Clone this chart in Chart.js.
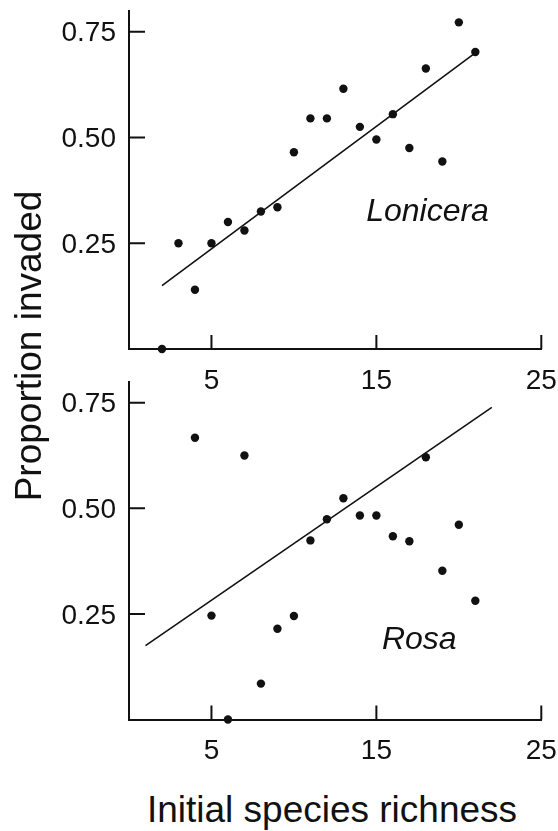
<!DOCTYPE html>
<html><head><meta charset="utf-8">
<script src="https://cdn.jsdelivr.net/npm/chart.js@4.4.0/dist/chart.umd.min.js"></script>
<style>
html,body{margin:0;padding:0;background:#fff;}
#wrap{position:relative;width:558px;height:831px;overflow:hidden;font-family:"Liberation Sans",Arial,Helvetica,sans-serif;color:#111;}
canvas{position:absolute;left:0;}
#c1{top:0;}
#c2{top:371px;}
.title{position:absolute;font-size:37px;line-height:40px;height:40px;white-space:nowrap;text-align:center;}
#xt{left:132px;width:400px;top:790px;}
#yt{left:-171px;top:326px;width:400px;transform:rotate(-90deg);}
</style></head>
<body>
<div id="wrap">
  <canvas id="c1" width="558" height="400"></canvas>
  <canvas id="c2" width="558" height="400"></canvas>
  <div class="title" id="yt">Proportion invaded</div>
  <div class="title" id="xt">Initial species richness</div>
</div>
<script>
// ---- data ----
const xTickValues = [5, 15, 25];
const yTickValues = [0.25, 0.5, 0.75];
const speciesNames = ["Lonicera", "Rosa"];

const loniceraRichness = [2, 3, 4, 5, 6, 7, 8, 9, 10, 11, 12, 13, 14, 15, 16, 17, 18, 19, 20, 21];
const loniceraInvaded  = [0, 0.25, 0.14, 0.25, 0.30, 0.28, 0.325, 0.335, 0.465, 0.545, 0.545, 0.615, 0.525, 0.495, 0.555, 0.475, 0.663, 0.443, 0.772, 0.702];
const loniceraFitX = [2, 21];
const loniceraFitY = [0.15, 0.70];

const rosaRichness = [4, 5, 6, 7, 8, 9, 10, 11, 12, 13, 14, 15, 16, 17, 18, 19, 20, 21];
const rosaInvaded  = [0.667, 0.246, 0, 0.625, 0.085, 0.215, 0.245, 0.424, 0.474, 0.524, 0.483, 0.483, 0.434, 0.422, 0.621, 0.352, 0.461, 0.281];
const rosaFitX = [1, 22];
const rosaFitY = [0.175, 0.739];

// ---- drawing ----
const FONT = '"Liberation Sans", Arial, Helvetica, sans-serif';
const INK = '#111';

const inwardTicks = {
  id: 'inwardTicks',
  afterDraw(chart) {
    const {ctx, chartArea: a, scales: {x, y}} = chart;
    ctx.save();
    ctx.strokeStyle = INK;
    ctx.lineWidth = 2;
    ctx.beginPath();
    y.ticks.forEach(t => {
      const py = y.getPixelForValue(t.value);
      ctx.moveTo(a.left, py); ctx.lineTo(a.left + 16, py);
    });
    x.ticks.forEach(t => {
      const px = x.getPixelForValue(t.value);
      ctx.moveTo(px, a.bottom); ctx.lineTo(px, a.bottom - 14);
    });
    ctx.stroke();
    ctx.restore();
  }
};

const speciesLabel = {
  id: 'speciesLabel',
  afterDraw(chart, args, opts) {
    const {ctx, scales: {x, y}} = chart;
    ctx.save();
    ctx.fillStyle = INK;
    ctx.font = 'italic 32px ' + FONT;
    ctx.textAlign = 'center';
    ctx.textBaseline = 'alphabetic';
    ctx.fillText(opts.text, x.getPixelForValue(opts.x), y.getPixelForValue(opts.y));
    ctx.restore();
  }
};

function makeChart(id, xs, ys, fitX, fitY, padTop, xAxisH, label) {
  const pts = xs.map((v, i) => ({x: v, y: ys[i]}));
  const fit = fitX.map((v, i) => ({x: v, y: fitY[i]}));
  return new Chart(document.getElementById(id), {
    type: 'scatter',
    data: {
      datasets: [
        {data: fit, showLine: true, borderColor: INK, borderWidth: 1.6, pointRadius: 0, fill: false, clip: false},
        {data: pts, pointRadius: 4.2, pointBackgroundColor: INK, pointBorderWidth: 0, clip: false}
      ]
    },
    options: {
      responsive: false,
      animation: false,
      devicePixelRatio: 1,
      layout: {padding: {top: padTop, right: 16.7, left: 0, bottom: 0}},
      plugins: {legend: {display: false}, tooltip: {enabled: false}, speciesLabel: label},
      scales: {
        x: {
          type: 'linear', min: 0, max: 25,
          afterBuildTicks: s => { s.ticks = xTickValues.map(v => ({value: v})); },
          afterFit: s => { s.height = xAxisH; s.paddingLeft = 0; s.paddingRight = 0; },
          grid: {display: false, drawTicks: false},
          border: {display: true, color: INK, width: 2},
          ticks: {font: {size: 28, family: FONT}, color: INK, padding: 15, maxRotation: 0, autoSkip: false}
        },
        y: {
          type: 'linear', min: 0, max: 0.8,
          afterBuildTicks: s => { s.ticks = yTickValues.map(v => ({value: v})); },
          afterFit: s => { s.width = 129; s.paddingTop = 0; s.paddingBottom = 0; },
          grid: {display: false, drawTicks: false},
          border: {display: true, color: INK, width: 2},
          ticks: {font: {size: 28, family: FONT}, color: INK, padding: 13, labelOffset: 2,
                  callback: v => v.toFixed(2)}
        }
      }
    },
    plugins: [inwardTicks, speciesLabel]
  });
}

makeChart('c1', loniceraRichness, loniceraInvaded, loniceraFitX, loniceraFitY, 10.5, 51,
  {text: speciesNames[0], x: 18.1, y: 0.3026});
makeChart('c2', rosaRichness, rosaInvaded, rosaFitX, rosaFitY, 10.6, 51.5,
  {text: speciesNames[1], x: 17.6, y: 0.166});
</script>
</body></html>
